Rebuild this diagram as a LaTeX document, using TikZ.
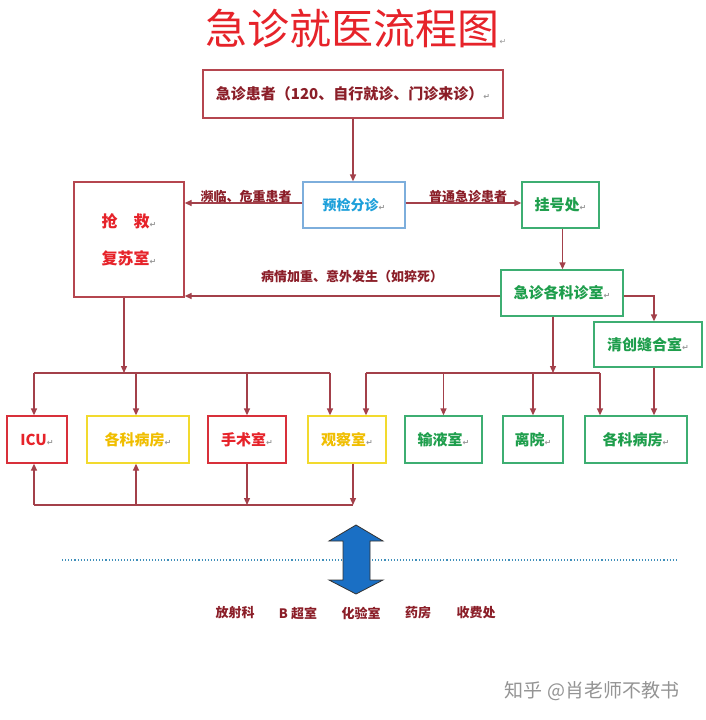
\documentclass[tikz,border=0pt]{standalone}
\usepackage{fontspec}
\usetikzlibrary{arrows.meta}
\newfontfamily\cjk{Noto Sans CJK SC}
\newfontfamily\djv{DejaVu Sans}
\definecolor{lnred}{HTML}{A3404A}
\definecolor{dred}{HTML}{8B1E28}
\definecolor{bred}{HTML}{B5464F}
\definecolor{rred}{HTML}{D8303A}
\definecolor{txred}{HTML}{E6232A}
\definecolor{ybord}{HTML}{F2DA2E}
\definecolor{ytext}{HTML}{F0BE00}
\definecolor{gbord}{HTML}{3DAE72}
\definecolor{gtext}{HTML}{1E9E4C}
\definecolor{bbord}{HTML}{7DAEDC}
\definecolor{btext}{HTML}{1EA0DA}
\definecolor{dotc}{HTML}{3F8FBA}
\definecolor{afill}{HTML}{1A6FC4}
\newcommand\pmk{{\djv\fontsize{8}{8}\selectfont\color{black!40}↵}}
\begin{document}
\begin{tikzpicture}[x=1pt,y=-1pt,
  box/.style={draw, line width=1.3pt, fill=white, inner sep=0pt, align=center,
    font=\cjk\bfseries\fontsize{15}{18}\selectfont},
  redbox/.style={box, draw=rred, text=txred},
  yelbox/.style={box, draw=ybord, text=ytext},
  grnbox/.style={box, draw=gbord, text=gtext},
  conn/.style={draw=lnred, line width=1.3pt},
  arr/.style={conn, -{Triangle[length=7pt,width=6pt]}},
  lbl/.style={text=dred, inner sep=0pt, font=\cjk\bfseries\fontsize{13}{15}\selectfont},
  bot/.style={text=dred, inner sep=0pt, font=\cjk\bfseries\fontsize{13}{15}\selectfont},
]
\useasboundingbox (0,0) rectangle (705,720);
\fill[white] (0,0) rectangle (705,720);

% title
\node[inner sep=0pt, text=txred, font=\cjk\fontsize{42}{46}\selectfont] (title) at (356,28) {急诊就医流程图\pmk};

% boxes
\node[box, draw=bred, text=dred, minimum width=300pt, minimum height=48pt] (top) at (353,94) {急诊患者（120、自行就诊、门诊来诊）\pmk};
\node[box, draw=bbord, text=btext, minimum width=102pt, minimum height=46pt, font=\cjk\bfseries\fontsize{14}{17}\selectfont] (yj) at (354,205) {预检分诊\pmk};
\node[box, draw=bred, text=txred, minimum width=110pt, minimum height=115pt, font=\cjk\bfseries\fontsize{16}{37}\selectfont] (qj) at (129,239.5) {抢　救\pmk\\复苏室\pmk};
\node[grnbox, minimum width=77pt, minimum height=46pt] (gh) at (560.5,205) {挂号处\pmk};
\node[grnbox, minimum width=122pt, minimum height=46pt] (jz) at (562,293) {急诊各科诊室\pmk};
\node[grnbox, minimum width=108pt, minimum height=45pt] (qc) at (648,344.5) {清创缝合室\pmk};

\node[redbox, minimum width=60pt, minimum height=47pt] (icu) at (37,439.5) {ICU\pmk};
\node[yelbox, minimum width=102pt, minimum height=47pt] (wd1) at (138,439.5) {各科病房\pmk};
\node[redbox, minimum width=78pt, minimum height=47pt] (ss) at (247,439.5) {手术室\pmk};
\node[yelbox, minimum width=78pt, minimum height=47pt] (gc) at (347,439.5) {观察室\pmk};
\node[grnbox, minimum width=77pt, minimum height=47pt] (sy) at (443.5,439.5) {输液室\pmk};
\node[grnbox, minimum width=60pt, minimum height=47pt] (ly) at (533,439.5) {离院\pmk};
\node[grnbox, minimum width=102pt, minimum height=47pt] (wd2) at (636,439.5) {各科病房\pmk};

% bus coordinates
\coordinate (busT) at (0,373);
\coordinate (busB) at (0,505);

% top connectors
\draw[arr] (top.south) -- (top.south |- yj.north);
\draw[arr] ([yshift=2pt]yj.west) -- ([yshift=2pt]yj.west -| qj.east);
\draw[arr] ([yshift=2pt]yj.east) -- ([yshift=2pt]yj.east -| gh.west);
\draw[arr] ([xshift=2pt]gh.south) -- ([xshift=2pt]gh.south |- jz.north);
\draw[arr] ([yshift=-3pt]jz.west) -- ([yshift=-3pt]jz.west -| qj.east);
\draw[arr] ([yshift=-3pt]jz.east) -| ([xshift=6pt]qc.north);

% labels
\node[lbl] (l1) at (246,197) {濒临、危重患者};
\node[lbl] (l2) at (468,196.5) {普通急诊患者};
\node[lbl] (l3) at (352,277) {病情加重、意外发生（如猝死）};

% left bus
\draw[arr] ([xshift=-5pt]qj.south) -- ([xshift=-5pt]qj.south |- busT);
\draw[conn] ([xshift=-3pt]icu.north |- busT) -- ([xshift=-17pt]gc.north |- busT);
\draw[arr] ([xshift=-3pt]icu.north |- busT) -- ([xshift=-3pt]icu.north);
\draw[arr] ([xshift=-2pt]wd1.north |- busT) -- ([xshift=-2pt]wd1.north);
\draw[arr] (ss.north |- busT) -- (ss.north);
\draw[arr] ([xshift=-17pt]gc.north |- busT) -- ([xshift=-17pt]gc.north);

% right bus
\draw[arr] ([xshift=-9pt]jz.south) -- ([xshift=-9pt]jz.south |- busT);
\draw[conn] ([xshift=19pt]gc.north |- busT) -- ([xshift=-36pt]wd2.north |- busT);
\draw[arr] ([xshift=19pt]gc.north |- busT) -- ([xshift=19pt]gc.north);
\draw[arr] (sy.north |- busT) -- (sy.north);
\draw[arr] (ly.north |- busT) -- (ly.north);
\draw[arr] ([xshift=-36pt]wd2.north |- busT) -- ([xshift=-36pt]wd2.north);
\draw[arr] ([xshift=6pt]qc.south) -- ([xshift=6pt]qc.south |- wd2.north);

% bottom bus
\draw[conn] ([xshift=-3pt]icu.south |- busB) -- ([xshift=6pt]gc.south |- busB);
\draw[arr] ([xshift=-3pt]icu.south |- busB) -- ([xshift=-3pt]icu.south);
\draw[arr] ([xshift=-2pt]wd1.south |- busB) -- ([xshift=-2pt]wd1.south);
\draw[arr] (ss.south) -- (ss.south |- busB);
\draw[arr] ([xshift=6pt]gc.south) -- ([xshift=6pt]gc.south |- busB);

% dotted separator and double arrow
\draw[dotc, dotted, line width=1.1pt] (62,560) -- (676,560);
\draw[fill=afill, draw=black!80, line width=0.8pt, line join=miter]
  (356,525) -- (383,541) -- (370,541) -- (370,580) -- (383,580) -- (356,594)
  -- (329,580) -- (343,580) -- (343,541) -- (329,541) -- cycle;

% bottom departments
\node[bot] (b1) at (235,613) {放射科};
\node[bot] (b2) at (298,613) {B 超室};
\node[bot] (b3) at (361,613) {化验室};
\node[bot] (b4) at (418,613) {药房};
\node[bot] (b5) at (476,613) {收费处};

% watermark
\node[inner sep=0pt, text=black!42, font=\cjk\fontsize{19}{22}\selectfont] (wm) at (592,691) {知乎 @肖老师不教书};
\end{tikzpicture}
\end{document}
